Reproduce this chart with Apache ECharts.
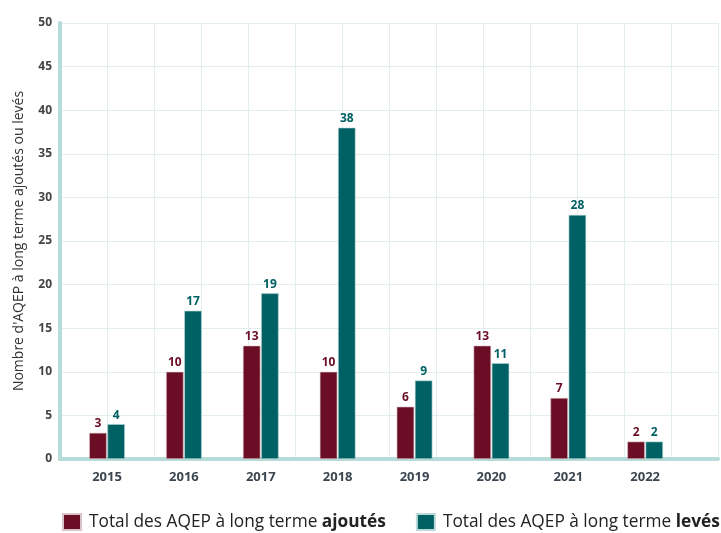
<!DOCTYPE html>
<html>
<head>
<meta charset="utf-8">
<script src="https://cdn.jsdelivr.net/npm/echarts@6/dist/echarts.min.js"></script>
<style>
  html, body { margin: 0; padding: 0; background: #ffffff; }
  #chart { width: 721px; height: 533px; }
</style>
</head>
<body>
<div id="chart"></div>
<script>
// Long-term AQEP added / lifted per year
const years = ['2015', '2016', '2017', '2018', '2019', '2020', '2021', '2022'];
const ajoutes = [3, 10, 13, 10, 6, 13, 7, 2];
const leves = [4, 17, 19, 38, 9, 11, 28, 2];
const yTicks = { min: 0, max: 50, interval: 5 };

const seriesNames = ['Total des AQEP à long terme ajoutés', 'Total des AQEP à long terme levés'];
const colorAjoutes = '#6b0d24';
const colorLeves = '#006164';
const gridColor = '#e1eeed';
const axisColor = '#b6dbd8';
const FONT = 'Open Sans';

const chart = echarts.init(document.getElementById('chart'), null, { renderer: 'canvas' });

const labelStyle = (color) => ({
  show: true,
  position: 'top',
  distance: 3,
  color: color,
  fontFamily: FONT,
  fontWeight: 'bold',
  fontSize: 12
});

chart.setOption({
  animation: false,
  textStyle: { fontFamily: FONT },
  grid: [
    // frame with gridlines and axis lines
    { left: 60, right: 3, top: 23, bottom: 74 },
    // bars
    { left: 68.6, right: 37.4, top: 23, bottom: 74 }
  ],
  legend: {
    left: 62,
    top: 513,
    width: 900,
    padding: 0,
    itemWidth: 18,
    itemHeight: 16,
    itemGap: 30,
    icon: 'rect',
    data: seriesNames,
    formatter: function (name) {
      if (name === seriesNames[0]) return 'Total des AQEP à long terme {b|ajoutés}';
      return 'Total des AQEP à long terme {b|levés}';
    },
    textStyle: {
      fontFamily: FONT,
      fontSize: 17.3,
      color: '#222',
      padding: [0, 0, 0, 3],
      rich: {
        b: { fontFamily: FONT, fontSize: 17.3, fontWeight: 'bold', color: '#222' }
      }
    }
  },
  xAxis: [
    {
      gridIndex: 0,
      type: 'value',
      min: 0,
      max: 14,
      interval: 1,
      axisLabel: { show: false },
      axisTick: { show: false },
      axisLine: { show: true, onZero: false, lineStyle: { color: axisColor, width: 4 } },
      splitLine: { show: true, lineStyle: { color: gridColor, width: 1 } }
    },
    {
      gridIndex: 1,
      type: 'category',
      data: years,
      axisLine: { show: false },
      axisTick: { show: false },
      axisLabel: {
        margin: 12,
        color: '#3c4650',
        fontFamily: FONT,
        fontWeight: 'bold',
        fontSize: 13
      }
    }
  ],
  yAxis: [
    {
      gridIndex: 0,
      type: 'value',
      min: yTicks.min,
      max: yTicks.max,
      interval: yTicks.interval,
      name: "Nombre d'AQEP à long terme ajoutés ou levés",
      nameLocation: 'middle',
      nameGap: 34,
      nameRotate: 90,
      nameTextStyle: { fontFamily: FONT, fontSize: 14, color: '#333' },
      axisLine: { show: true, lineStyle: { color: axisColor, width: 4 } },
      axisTick: { show: false },
      axisLabel: {
        margin: 8,
        color: '#444',
        fontFamily: FONT,
        fontWeight: 'bold',
        fontSize: 12
      },
      splitLine: { show: true, lineStyle: { color: gridColor, width: 1 } }
    },
    {
      gridIndex: 1,
      type: 'value',
      min: yTicks.min,
      max: yTicks.max,
      interval: yTicks.interval,
      show: false,
      splitLine: { show: false }
    }
  ],
  series: [
    {
      name: seriesNames[0],
      type: 'bar',
      xAxisIndex: 1,
      yAxisIndex: 1,
      data: ajoutes,
      barWidth: 17.5,
      barGap: '4%',
      itemStyle: { color: colorAjoutes, borderColor: '#d9c3c8', borderWidth: 0.6 },
      label: labelStyle(colorAjoutes),
      z: 1
    },
    {
      name: seriesNames[1],
      type: 'bar',
      xAxisIndex: 1,
      yAxisIndex: 1,
      data: leves,
      barWidth: 17.5,
      barGap: '4%',
      itemStyle: { color: colorLeves, borderColor: '#bcd9d9', borderWidth: 0.6 },
      label: labelStyle(colorLeves),
      z: 1
    }
  ]
});
</script>
</body>
</html>
